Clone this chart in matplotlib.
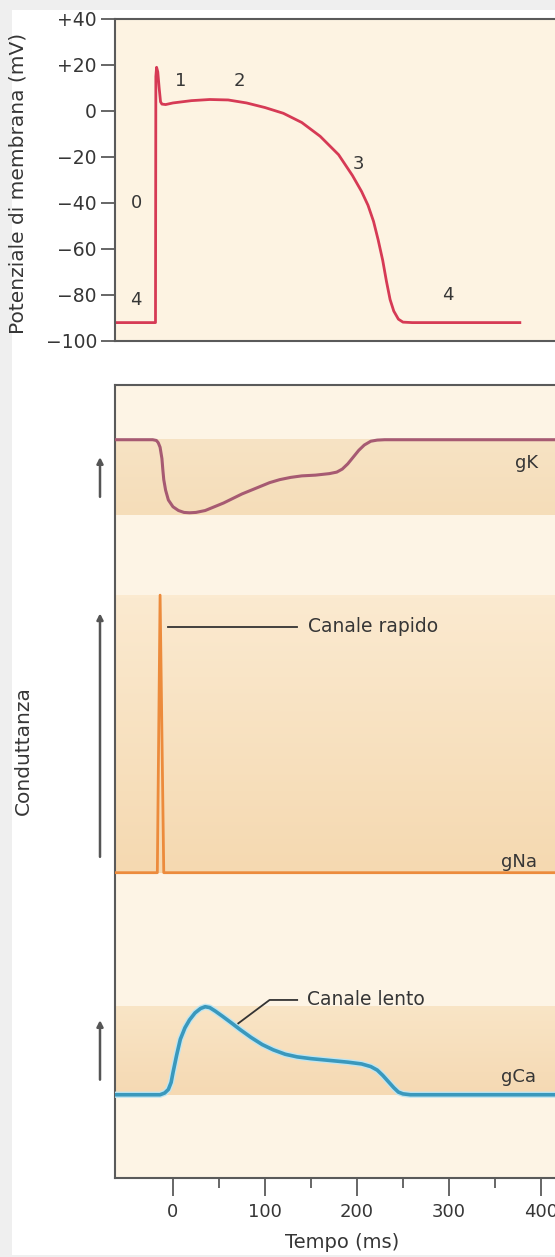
import numpy as np
import matplotlib
matplotlib.use("Agg")
import matplotlib.pyplot as plt
from matplotlib.colors import LinearSegmentedColormap
from matplotlib.patches import Rectangle
from matplotlib.ticker import FixedLocator
import matplotlib.transforms as mtransforms

plt.rcParams['font.family'] = ['DejaVu Sans']

# --- data ---
# action potential (ms, mV)
ap_t = [-63, -19, -18.6, -17.8, -16.5, -15, -13.5, -12, -8, 0, 20, 40, 60, 80,
        100, 120, 140, 160, 180, 195, 205, 212, 218, 223, 228, 232, 236, 240,
        245, 250, 260, 377]
ap_v = [-92, -92, 15, 19, 17, 10, 4, 3, 2.8, 3.5, 4.5, 5, 4.8, 3.5,
        1.5, -1, -5, -11, -19, -28, -35, -41, -48, -56, -65, -74, -82, -87,
        -90.5, -91.8, -92, -92]

# phase labels on the action potential (label, ms, mV)
phase_lbl = ["0", "4", "1", "2", "3", "4"]
phase_t = [-40, -40, 8, 72, 202, 299]
phase_v = [-40, -82, 13, 13, -23, -80]

# potassium conductance (relative, 1 = resting level)
gk_t = [-63, -22, -18, -16, -14, -12, -11, -10, -8, -5, 0, 6, 12, 18, 25, 35,
        45, 55, 65, 75, 85, 95, 105, 116, 128, 140, 155, 170, 178, 184, 190,
        196, 202, 208, 215, 222, 230, 450]
gk_v = [1.0, 1.0, 0.99, 0.96, 0.9, 0.75, 0.6, 0.47, 0.33, 0.2, 0.11, 0.06, 0.035,
        0.03, 0.035, 0.06, 0.11, 0.16, 0.22, 0.28, 0.33, 0.38, 0.43, 0.47, 0.5,
        0.52, 0.53, 0.55, 0.57, 0.61, 0.68, 0.77, 0.86, 0.93, 0.98, 0.995, 1.0, 1.0]

# fast sodium conductance (relative)
gna_t = [-63, -17, -14, -10, 450]
gna_v = [0, 0, 1, 0, 0]

# slow calcium conductance (relative)
gca_t = [-63, -14, -9, -5, -2, 0, 4, 8, 13, 18, 24, 30, 35, 40, 46, 54, 63, 73,
         85, 97, 109, 122, 135, 150, 170, 190, 205, 215, 222, 228, 234, 240, 245,
         250, 258, 450]
gca_v = [0, 0, 0.02, 0.06, 0.14, 0.25, 0.45, 0.63, 0.76, 0.85, 0.93, 0.98, 1.0,
         0.99, 0.95, 0.89, 0.82, 0.74, 0.65, 0.57, 0.51, 0.46, 0.43, 0.41, 0.39,
         0.37, 0.35, 0.32, 0.28, 0.22, 0.15, 0.08, 0.03, 0.01, 0, 0]

ap_ticks = [-100, -80, -60, -40, -20, 0, 20, 40]
ap_ticklabels = ["\u2212100", "\u221280", "\u221260", "\u221240", "\u221220", "0", "+20", "+40"]
time_ticks = [0, 100, 200, 300, 400]

# --- styling ---
TXT = "#363636"
SPINE = "#5a5a5a"
BG = "#fdf3e2"
XMIN, XMAX = -63, 450

fig = plt.figure(figsize=(5.55, 12.57), dpi=100, facecolor="#efefef")
fig.add_artist(Rectangle((12 / 555, 2 / 1257), 1, 1 - 12 / 1257,
                         transform=fig.transFigure, facecolor="white",
                         edgecolor="none", zorder=-5))

# top panel: membrane potential
ax1 = fig.add_axes([115 / 555, 1 - 341 / 1257, 472 / 555, 322 / 1257])
ax1.set_facecolor(BG)
ax1.plot(ap_t, ap_v, color="#d63a55", lw=2.0, solid_joinstyle="round")
for s, t, v in zip(phase_lbl, phase_t, phase_v):
    ax1.text(t, v, s, ha="center", va="center", fontsize=13, color=TXT)
ax1.set_xlim(XMIN, XMAX)
ax1.set_ylim(-100, 40)
ax1.set_yticks(ap_ticks)
ax1.set_yticklabels(ap_ticklabels)
ax1.set_xticks([])
ax1.tick_params(axis="y", direction="out", length=10, width=1.3, color=SPINE,
                labelsize=13.5, labelcolor=TXT, pad=3)
for sp in ax1.spines.values():
    sp.set_color(SPINE)
    sp.set_linewidth(1.5)

fig.text(18 / 555, 1 - 183 / 1257, "Potenziale di membrana (mV)", rotation=90,
         ha="center", va="center", fontsize=14.5, color=TXT)

# bottom panel: conductances
ax2 = fig.add_axes([115 / 555, 1 - 1178 / 1257, 472 / 555, 793 / 1257])
ax2.set_facecolor("#fdf4e5")
ax2.set_xlim(XMIN, XMAX)
ax2.set_ylim(0, 10)

# band placement (bottom, top) in panel units
bands = {"gK": (8.36, 9.31), "gNa": (3.85, 7.35), "gCa": (1.05, 2.16)}
band_cols = {"gK": ("#f7e3c4", "#f5ddb9"),
             "gNa": ("#fbead0", "#f5d9b1"),
             "gCa": ("#f9e5c6", "#f5d9b3")}
for name, (b, t) in bands.items():
    cmap = LinearSegmentedColormap.from_list(name, [band_cols[name][1], band_cols[name][0]])
    grad = np.linspace(0, 1, 64).reshape(-1, 1)
    ax2.imshow(grad, extent=(XMIN, XMAX, b, t), origin="lower", aspect="auto",
               cmap=cmap, zorder=0.5, interpolation="bicubic")


def place(vals, name):
    b, t = bands[name]
    return [b + (t - b) * v for v in vals]


ax2.plot(gk_t, place(gk_v, "gK"), color="#a65a72", lw=2.2, zorder=3,
         solid_joinstyle="round")
ax2.plot(gna_t, place(gna_v, "gNa"), color="#ec8b3c", lw=2.0, zorder=3)
ax2.plot(gca_t, place(gca_v, "gCa"), color="#bfe6f2", lw=4.5, zorder=3,
         solid_joinstyle="round")
ax2.plot(gca_t, place(gca_v, "gCa"), color="#3a98bc", lw=2.6, zorder=3,
         solid_joinstyle="round")

ax2.text(384, 9.02, "gK", ha="center", va="center", fontsize=13, color=TXT)
ax2.text(376, 3.98, "gNa", ha="center", va="center", fontsize=13, color=TXT)
ax2.text(376, 1.27, "gCa", ha="center", va="center", fontsize=13, color=TXT)

# callouts
ax2.plot([-5, 135], [6.95, 6.95], color="#333333", lw=1.3, zorder=4)
ax2.text(147, 6.95, "Canale rapido", ha="left", va="center", fontsize=13.5, color=TXT)
ax2.plot([71, 105, 135], [1.95, 2.245, 2.245], color="#333333", lw=1.3, zorder=4)
ax2.text(146, 2.245, "Canale lento", ha="left", va="center", fontsize=13.5, color=TXT)

# arrows to the left of the panel
trans = mtransforms.blended_transform_factory(ax2.transAxes, ax2.transData)
arrow_x = (100 - 115) / 472
for y0, y1 in [(8.59, 9.09), (4.05, 7.12), (1.24, 1.99)]:
    ax2.annotate("", xy=(arrow_x, y1), xytext=(arrow_x, y0), xycoords=trans,
                 textcoords=trans, annotation_clip=False,
                 arrowprops=dict(arrowstyle="-|>,head_length=0.35,head_width=0.18",
                                 color="#555555", lw=1.8, shrinkA=0, shrinkB=0))

fig.text(23 / 555, 1 - 751 / 1257, "Conduttanza", rotation=90,
         ha="center", va="center", fontsize=14.5, color=TXT)

ax2.set_yticks([])
ax2.set_xticks(time_ticks)
ax2.xaxis.set_minor_locator(FixedLocator([50, 150, 250, 350, 450]))
ax2.tick_params(axis="x", which="major", direction="out", length=13, width=1.3,
                color=SPINE, labelsize=13, labelcolor=TXT, pad=5)
ax2.tick_params(axis="x", which="minor", direction="out", length=7, width=1.3,
                color=SPINE)
for sp in ax2.spines.values():
    sp.set_color(SPINE)
    sp.set_linewidth(1.5)

fig.text(342 / 555, 1 - 1242 / 1257, "Tempo (ms)", ha="center", va="center",
         fontsize=14, color=TXT)

fig.savefig("out.png", dpi=100, facecolor=fig.get_facecolor())
